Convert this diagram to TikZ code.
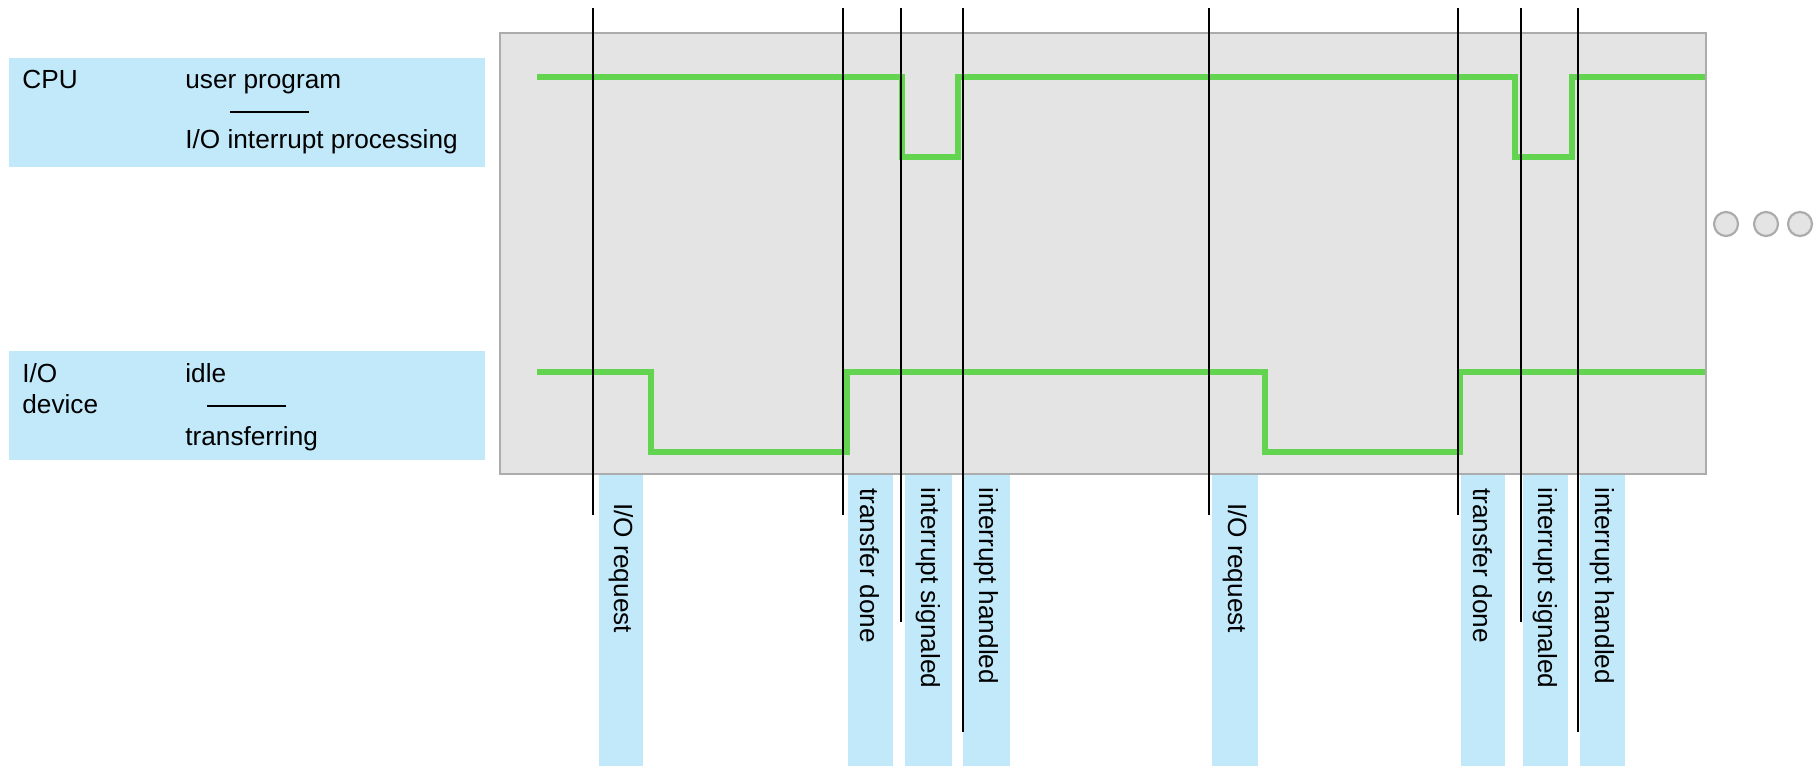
\documentclass[tikz,border=0pt]{standalone}
\usepackage{fontspec}
\setmainfont{Liberation Sans}
\definecolor{sigGreen}{RGB}{98,212,80}
\definecolor{rowBlue}{RGB}{193,233,250}
\definecolor{panelGray}{RGB}{228,228,228}
\definecolor{edgeGray}{RGB}{172,172,172}
\tikzset{
  rowbox/.style={fill=rowBlue, inner sep=0pt, anchor=north west, minimum width=238pt, minimum height=54.5pt},
  panel/.style={fill=panelGray, draw=edgeGray, line width=1pt, inner sep=0pt, anchor=north west, minimum width=603pt, minimum height=220.5pt},
  txt/.style={inner sep=0pt, anchor=base west, font=\fontsize{13.1}{15}\selectfont},
  evtext/.style={txt, rotate=-90, anchor=west},
  evbar/.style={fill=rowBlue},
  tick/.style={line width=1.2pt, black},
  sig/.style={line width=2.6pt, sigGreen},
  sep/.style={line width=1pt, black},
  dot/.style={circle, draw=edgeGray, fill=panelGray, line width=1.1pt, minimum size=12pt, inner sep=0pt}
}

\begin{document}
\begin{tikzpicture}[x=0.5pt, y=-0.5pt]
\useasboundingbox (0,0) rectangle (1818,766);

% row legends
\path (9,58)   node[rowbox] (cpubox) {}
      (9,351)  node[rowbox] (iobox) {}
      (22,88)  node[txt] (cpu) {CPU}
      (185,88) node[txt] (user) {user program}
      (185,148) node[txt] (intr) {I/O interrupt processing}
      (22,382) node[txt] (io) {I/O}
      (22,413) node[txt] (dev) {device}
      (185,382) node[txt] (idle) {idle}
      (185,445) node[txt] (xfer) {transferring};
\draw[sep] (230,112) -- (309,112);
\draw[sep] (207,406) -- (286,406);

% timeline panel
\path (499,32) node[panel] (panel) {};

% event label bars
\foreach \a/\b in {599/643, 848/893, 905/952, 963/1010, 1212/1258, 1461/1505, 1523/1568, 1580/1625}
  \fill[rowBlue] (\a,475) rectangle (\b,766);

\path (621,503)  node[evtext] (req1) {I/O request}
      (870,488)  node[evtext] (done1) {transfer done}
      (928,487)  node[evtext] (sgn1) {interrupt signaled}
      (986,487)  node[evtext] (hdl1) {interrupt handled}
      (1235,503) node[evtext] (req2) {I/O request}
      (1483,488) node[evtext] (done2) {transfer done}
      (1545,487) node[evtext] (sgn2) {interrupt signaled}
      (1602,487) node[evtext] (hdl2) {interrupt handled};

% signals
\draw[sig] (537,77) -- (902,77) -- (902,157) -- (958,157) -- (958,77)
  -- (1515,77) -- (1515,157) -- (1572,157) -- (1572,77) -- (1705,77);
\draw[sig] (537,372) -- (651,372) -- (651,452) -- (847,452) -- (847,372)
  -- (1265,372) -- (1265,452) -- (1460,452) -- (1460,372) -- (1705,372);

% event ticks
\foreach \x/\e [count=\i] in {593/515, 843/515, 901/622, 963/732, 1209/515, 1458/515, 1521/622, 1578/732} {
  \coordinate (t\i) at (\x,8);
  \coordinate (e\i) at (\x,\e);
  \draw[tick] (t\i) -- (e\i);
}

% continuation
\path (1726,224) node[dot] (d1) {}
      (1766,224) node[dot] (d2) {}
      (1800,224) node[dot] (d3) {};

\end{tikzpicture}
\end{document}
